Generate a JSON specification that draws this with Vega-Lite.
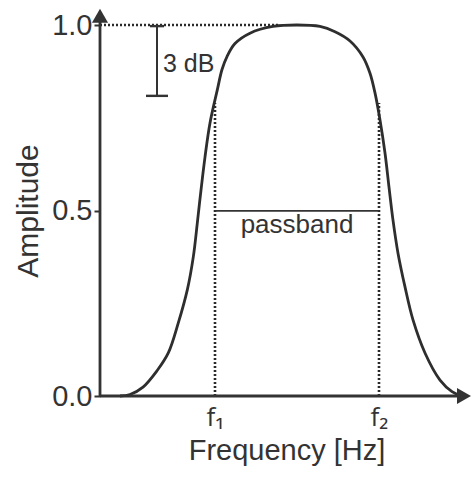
{
  "$schema": "https://vega.github.io/schema/vega-lite/v6.json",
  "width": 373,
  "height": 371,
  "autosize": "none",
  "padding": {"left": 100, "top": 25, "right": 0, "bottom": 81},
  "background": "white",
  "config": {"view": {"stroke": null}, "font": "Liberation Sans"},
  "datasets": {
    "curve": [
      {"f": 20, "a": 0.0},
      {"f": 30, "a": 0.004},
      {"f": 43, "a": 0.024},
      {"f": 57, "a": 0.068},
      {"f": 68.3, "a": 0.116},
      {"f": 78.3, "a": 0.197},
      {"f": 87.3, "a": 0.286},
      {"f": 93.3, "a": 0.375},
      {"f": 97.3, "a": 0.466},
      {"f": 101, "a": 0.555},
      {"f": 105, "a": 0.644},
      {"f": 110, "a": 0.736},
      {"f": 117.3, "a": 0.825},
      {"f": 122, "a": 0.88},
      {"f": 127, "a": 0.915},
      {"f": 135, "a": 0.95},
      {"f": 150, "a": 0.978},
      {"f": 173, "a": 0.996},
      {"f": 197, "a": 1.0},
      {"f": 220, "a": 0.996},
      {"f": 235, "a": 0.982},
      {"f": 250, "a": 0.957},
      {"f": 263, "a": 0.914},
      {"f": 270, "a": 0.87},
      {"f": 275, "a": 0.817},
      {"f": 280, "a": 0.744},
      {"f": 285, "a": 0.655},
      {"f": 289, "a": 0.563},
      {"f": 293, "a": 0.474},
      {"f": 298, "a": 0.385},
      {"f": 305, "a": 0.294},
      {"f": 313, "a": 0.205},
      {"f": 325, "a": 0.116},
      {"f": 340, "a": 0.043},
      {"f": 352, "a": 0.012},
      {"f": 362, "a": 0.0}
    ],
    "cutoffs": [
      {"f": 115, "a0": 0, "a1": 0.79},
      {"f": 279, "a0": 0, "a1": 0.79}
    ]
  },
  "layer": [
    {
      "data": {"name": "curve"},
      "mark": {"type": "line", "interpolate": "catmull-rom", "stroke": "#2e2e2e", "strokeWidth": 2.8},
      "encoding": {
        "x": {
          "field": "f", "type": "quantitative",
          "scale": {"domain": [0, 373], "nice": false, "zero": false},
          "axis": {
            "values": [115, 279],
            "labelExpr": "datum.value < 200 ? 'f₁' : 'f₂'",
            "domain": false, "ticks": false, "grid": false,
            "labelFontSize": 26, "labelColor": "#333333", "labelPadding": 8, "labelFont": "Open Sans",
            "title": "Frequency [Hz]", "titleFontSize": 29, "titleFontWeight": "normal", "titleColor": "#333333", "titlePadding": 6
          }
        },
        "y": {
          "field": "a", "type": "quantitative",
          "scale": {"domain": [0, 1], "nice": false},
          "axis": {
            "values": [0, 0.5, 1], "format": ".1f",
            "domain": false, "grid": false,
            "tickSize": 6, "tickWidth": 2, "tickColor": "#333333",
            "labelFontSize": 29, "labelColor": "#333333", "labelPadding": 2,
            "title": "Amplitude", "titleFontSize": 30, "titleFontWeight": "normal", "titleColor": "#333333", "titlePadding": 8
          }
        }
      }
    },
    {
      "data": {"name": "cutoffs"},
      "mark": {"type": "rule", "stroke": "#2a2a2a", "strokeWidth": 2.6, "strokeDash": [2, 2]},
      "encoding": {
        "x": {"field": "f", "type": "quantitative"},
        "y": {"field": "a0", "type": "quantitative"},
        "y2": {"field": "a1"}
      }
    },
    {
      "data": {"values": [{"f0": 0, "f1": 180, "a": 1.0}]},
      "mark": {"type": "rule", "stroke": "#2a2a2a", "strokeWidth": 2.6, "strokeDash": [2, 2]},
      "encoding": {
        "x": {"field": "f0", "type": "quantitative"},
        "x2": {"field": "f1"},
        "y": {"field": "a", "type": "quantitative"}
      }
    },
    {
      "data": {"values": [{"f0": 115, "f1": 279, "a": 0.499}]},
      "mark": {"type": "rule", "stroke": "#333333", "strokeWidth": 1.6},
      "encoding": {
        "x": {"field": "f0", "type": "quantitative"},
        "x2": {"field": "f1"},
        "y": {"field": "a", "type": "quantitative"}
      }
    },
    {
      "data": {"values": [{"f": 197, "a": 0.461, "t": "passband"}]},
      "mark": {"type": "text", "fontSize": 26, "color": "#333333", "align": "center", "baseline": "middle"},
      "encoding": {
        "x": {"field": "f", "type": "quantitative"},
        "y": {"field": "a", "type": "quantitative"},
        "text": {"field": "t"}
      }
    },
    {
      "data": {"values": [{"f": 57, "a0": 0.809, "a1": 0.997}]},
      "mark": {"type": "rule", "stroke": "#333333", "strokeWidth": 2},
      "encoding": {
        "x": {"field": "f", "type": "quantitative"},
        "y": {"field": "a0", "type": "quantitative"},
        "y2": {"field": "a1"}
      }
    },
    {
      "data": {"values": [{"f0": 46, "f1": 68, "a": 0.809}, {"f0": 50, "f1": 64, "a": 0.997}]},
      "mark": {"type": "rule", "stroke": "#333333", "strokeWidth": 2.4},
      "encoding": {
        "x": {"field": "f0", "type": "quantitative"},
        "x2": {"field": "f1"},
        "y": {"field": "a", "type": "quantitative"}
      }
    },
    {
      "data": {"values": [{"f": 63, "a": 0.895, "t": "3 dB"}]},
      "mark": {"type": "text", "fontSize": 25, "color": "#333333", "align": "left", "baseline": "middle"},
      "encoding": {
        "x": {"field": "f", "type": "quantitative"},
        "y": {"field": "a", "type": "quantitative"},
        "text": {"field": "t"}
      }
    },
    {
      "data": {"values": [{"f0": 0, "f1": 0, "a0": 0, "a1": 1.01}, {"f0": 0, "f1": 360, "a0": 0, "a1": 0}]},
      "mark": {"type": "rule", "stroke": "#333333", "strokeWidth": 2.8},
      "encoding": {
        "x": {"field": "f0", "type": "quantitative"},
        "x2": {"field": "f1"},
        "y": {"field": "a0", "type": "quantitative"},
        "y2": {"field": "a1"}
      }
    },
    {
      "data": {"values": [{"f": 0, "a": 1.025, "s": "triangle-up"}, {"f": 364, "a": 0, "s": "triangle-right"}]},
      "mark": {"type": "point", "filled": true, "color": "#333333", "size": 260, "opacity": 1},
      "encoding": {
        "x": {"field": "f", "type": "quantitative"},
        "y": {"field": "a", "type": "quantitative"},
        "shape": {"field": "s", "type": "nominal", "scale": null, "legend": null}
      }
    }
  ]
}
